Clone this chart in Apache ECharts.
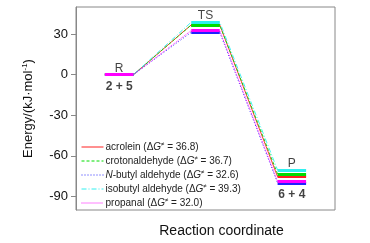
<!doctype html>
<html>
<head>
    <meta charset="utf-8">
    <title>Reaction coordinate</title>
    <script src="https://cdn.jsdelivr.net/npm/echarts@6/dist/echarts.min.js"></script>
</head>
<body style="margin:0;padding:0;background:#fff">
    <div id="tb" style="width:370px;height:243px"></div>
    <script>
        // data
        var names = ['acrolein', 'crotonaldehyde', 'N-butyl aldehyde', 'isobutyl aldehyde', 'propanal'];
        var barrier = ['36.8', '36.7', '32.6', '39.3', '32.0'];   // legend text
        var reactEnergy = [0, 0, 0, 0, 0];
        var tsEnergy = [36.8, 36.7, 31.3, 38.8, 32.6];
        var prodEnergy = [-75.4, -73.4, -80.0, -70.5, -79.0];
        var colors = ['#ff2020', '#00dd00', '#2020ff', '#30f0f0', '#ff00ff'];
        var dashes = ['solid', [3, 2], [1, 2], [5, 2, 1, 2], [1, 1]];
        var stageX = [0.5, 1.5, 2.5];   // centre of R, TS, P
        var halfW = 0.165;
        var topLabels = ['R', 'TS', 'P'];
        var bottomLabels = ['2 + 5', '', '6 + 4'];
        var yTicks = [-90, -60, -30, 0, 30];

        var chart = echarts.init(document.getElementById('tb'));

        var series = [];
        names.forEach(function (n, i) {
            var lv = [reactEnergy[i], tsEnergy[i], prodEnergy[i]];
            var path = [];
            var segs = [];
            lv.forEach(function (v, k) {
                path.push([stageX[k] - halfW, v]);
                path.push([stageX[k] + halfW, v]);
                segs.push([{ coord: [stageX[k] - halfW, v] }, { coord: [stageX[k] + halfW, v] }]);
            });
            series.push({
                name: n,
                type: 'line',
                symbol: 'none',
                silent: true,
                lineStyle: { color: colors[i], width: 0.9, type: dashes[i] },
                itemStyle: { color: colors[i] },
                data: path,
                markLine: {
                    silent: true,
                    symbol: 'none',
                    label: { show: false },
                    lineStyle: { color: colors[i], width: 3, type: 'solid' },
                    data: segs
                }
            });
        });

        // stage labels: above the top level / below the bottom level
        var hi = [], lo = [];
        stageX.forEach(function (x, k) {
            var vals = names.map(function (n, i) { return [reactEnergy[i], tsEnergy[i], prodEnergy[i]][k]; });
            hi.push({ value: [x, Math.max.apply(null, vals)], label: { formatter: topLabels[k] } });
            lo.push({ value: [x, Math.min.apply(null, vals)], label: { formatter: bottomLabels[k] } });
        });
        series.push({
            type: 'scatter', symbolSize: 0, silent: true, data: hi,
            label: { show: true, position: 'top', distance: 1, offset: [0, 1], color: '#111', fontSize: 12, fontFamily: 'Liberation Sans' }
        });
        series.push({
            type: 'scatter', symbolSize: 0, silent: true, data: lo,
            label: { show: true, position: 'bottom', distance: 2, offset: [0, 4], color: '#111', fontSize: 12, fontWeight: 'bold', fontFamily: 'Liberation Sans' }
        });

        chart.setOption({
            animation: false,
            textStyle: { fontFamily: 'Liberation Sans' },
            grid: {
                left: 76, top: 7, width: 259, height: 207,
                show: true, borderColor: '#888', borderWidth: 1
            },
            legend: {
                data: names,
                orient: 'vertical',
                left: 76, top: 136,
                itemWidth: 22, itemHeight: 8, itemGap: 2,
                itemStyle: { opacity: 0 },
                lineStyle: { width: 1 },
                formatter: function (name) {
                    var i = names.indexOf(name);
                    var label = name === 'N-butyl aldehyde' ? '{g|N}-butyl aldehyde' : name;
                    return label + ' (\u0394{g|G}{s|\u2260} = ' + barrier[i] + ')';
                },
                textStyle: {
                    fontSize: 10, color: '#222', lineHeight: 12, padding: [0, 0, 0, -3],
                    rich: {
                        g: { fontSize: 10, fontStyle: 'italic', color: '#222', lineHeight: 12 },
                        s: { fontSize: 6, color: '#222', lineHeight: 12, padding: [0, 0, 5, 0] }
                    }
                }
            },
            xAxis: {
                type: 'value', min: 0, max: 3,
                name: 'Reaction coordinate', nameLocation: 'middle', nameGap: 14,
                nameTextStyle: { fontSize: 14, color: '#111', padding: [0, 0, 0, 32] },
                axisLine: { show: false },
                axisTick: { show: false },
                axisLabel: { show: false },
                splitLine: { show: false }
            },
            yAxis: {
                type: 'value', min: -100, max: 50,
                name: 'Energy/(kJ\u00b7mol{s|-1})', nameLocation: 'middle', nameGap: 40,
                nameTextStyle: {
                    fontSize: 13, color: '#111',
                    rich: { s: { fontSize: 8, color: '#111', padding: [0, 0, 7, 0] } }
                },
                axisLine: { show: true, lineStyle: { color: '#888' } },
                axisTick: { show: true, length: 5, customValues: yTicks, lineStyle: { color: '#888' } },
                axisLabel: { fontSize: 13, color: '#111', margin: 8, customValues: yTicks },
                splitLine: { show: false }
            },
            series: series
        });
    </script>
</body>
</html>
